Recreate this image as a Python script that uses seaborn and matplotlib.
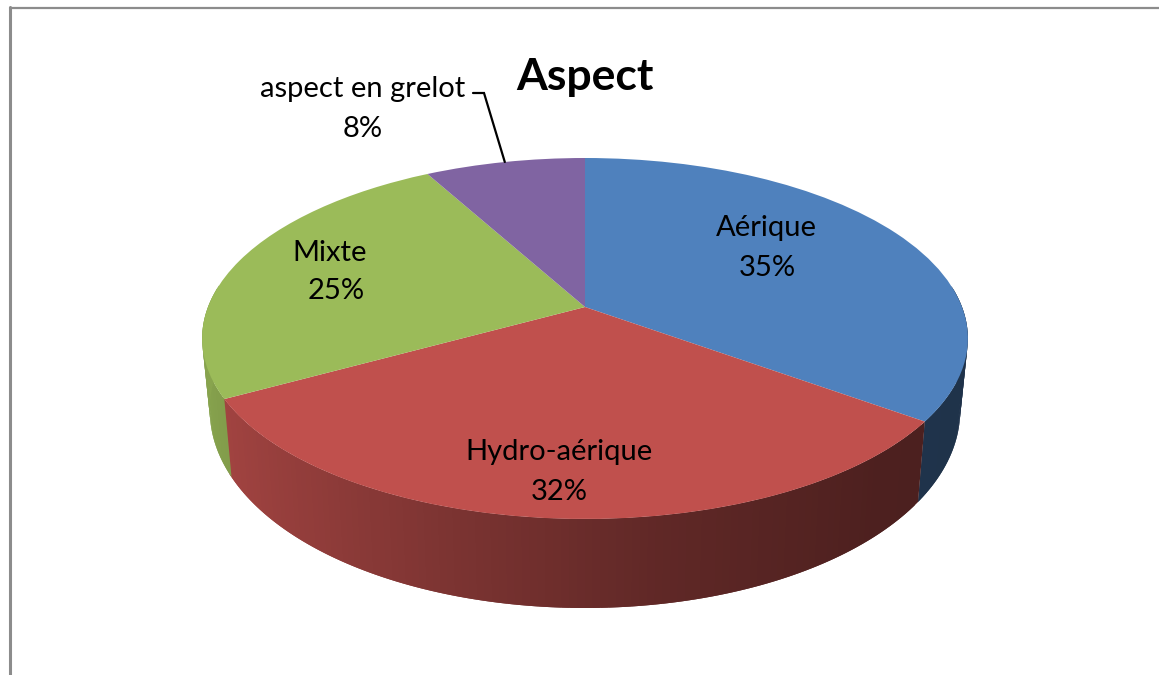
"""Aspect - tilted 3D pie, seaborn palette + matplotlib pie under a perspective transform."""

import numpy as np
import matplotlib
matplotlib.use("Agg")
import matplotlib.pyplot as plt
from matplotlib.transforms import Transform
import seaborn as sns

# --- DATA ---
categories = ["Aérique", "Hydro-aérique", "Mixte", "aspect en grelot"]
values = [35, 32, 25, 8]
slice_colors = ["#4f81bd", "#c0504d", "#9bbb59", "#8064a2"]
title = "Aspect"

# --- GEOMETRY (pixels of the 1159x675 canvas) ---
CX, CY = 585, 307
A, B, K = 377, 175, 0.1745
SHRINK = 0.98


def project(X, Y):
    """Unit disc to the screen, with the far edge foreshortened."""
    w = 1 + K * Y
    return CX + A * X / w, CY - B * Y / w


class DiscPerspective(Transform):
    input_dims = output_dims = 2
    is_separable = False
    has_inverse = False

    def transform_non_affine(self, values):
        x, y = project(values[:, 0], values[:, 1])
        return np.column_stack([x, y])


def wall_shade(X):
    # light from the left: the wall gets darker towards the right
    return np.interp(X, [-1, -0.3, 0.17, 0.7, 1], [0.88, 0.65, 0.5, 0.4, 0.39])


sns.set_theme(style="white")
plt.rcParams["font.family"] = ["Lato", "DejaVu Sans"]

palette = sns.color_palette(slice_colors)

fig = plt.figure(figsize=(11.59, 6.75), dpi=100)
ax = fig.add_axes([0, 0, 1, 1])

# Top face
wedges, _ = ax.pie(values, colors=palette, startangle=90, counterclock=False, radius=1,
                   wedgeprops={"linewidth": 0, "edgecolor": "none"})
persp = DiscPerspective()
for wedge in wedges:
    wedge.set_transform(persp + ax.transData)
    wedge.set_zorder(3)

ax.set_aspect("auto")
ax.set_xlim(0, 1159)
ax.set_ylim(675, 0)

# Side wall, strips overlap the next one so no seams show
fractions = np.array(values) / np.sum(values)
edges = 90 - 360 * np.concatenate([[0], np.cumsum(fractions)])
for start, stop, col in zip(edges[:-1], edges[1:], palette):
    angles = np.radians(np.arange(start, stop - 1, -1.0))
    angles = np.append(angles, np.radians(stop))
    for i in range(len(angles) - 1):
        t = np.linspace(angles[i], angles[min(i + 2, len(angles) - 1)], 4)
        X = np.cos(t)
        Y = np.sin(t)
        if Y.min() > 0.1:
            continue
        tx, ty = project(X, Y)
        bx = CX + (tx - CX) * SHRINK
        by = ty + 68 - 21 * Y
        shade = wall_shade(np.cos(angles[i]))
        ax.fill(np.r_[tx, bx[::-1]], np.r_[ty, by[::-1]],
                facecolor=np.array(col) * shade, edgecolor="none", lw=0, zorder=2)

# Title and slice labels
ax.text(585, 77, title, fontsize=32, fontweight="bold", ha="center", va="center", color="black", zorder=5)
label_font = 21
ax.text(766, 228, categories[0], fontsize=label_font, ha="center", va="center", color="black", zorder=5)
ax.text(767, 268, f"{values[0]}%", fontsize=label_font, ha="center", va="center", color="black", zorder=5)
ax.text(559, 452, categories[1], fontsize=label_font, ha="center", va="center", color="black", zorder=5)
ax.text(559, 492, f"{values[1]}%", fontsize=label_font, ha="center", va="center", color="black", zorder=5)
ax.text(330, 253, categories[2], fontsize=label_font, ha="center", va="center", color="black", zorder=5)
ax.text(336, 291, f"{values[2]}%", fontsize=label_font, ha="center", va="center", color="black", zorder=5)
ax.text(363, 89, categories[3], fontsize=label_font, ha="center", va="center", color="black", zorder=5)
ax.text(363, 129, f"{values[3]}%", fontsize=label_font, ha="center", va="center", color="black", zorder=5)

# Leader line to the middle of the last slice
mid = np.radians((edges[-2] + edges[-1]) / 2)
lx, ly = project(np.cos(mid), np.sin(mid))
ax.plot([473, 484, lx], [93, 93, ly], color="black", lw=1.6, zorder=5, solid_joinstyle="miter")

# Chart area border (only top and left fall inside the crop)
ax.plot([9.5, 1159], [8, 8], color="#8c8c8c", lw=1.6, zorder=1)
ax.plot([9.5, 9.5], [675, 7], color="#8c8c8c", lw=2.2, zorder=1)

plt.savefig("out.png", dpi=100)
plt.close()
